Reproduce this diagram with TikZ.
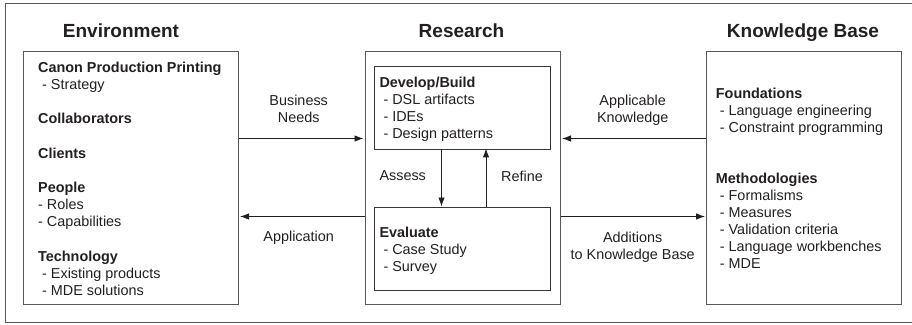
\documentclass[tikz,border=0pt]{standalone}
\usepackage{fontspec}
\setmainfont{Liberation Sans}
\usetikzlibrary{arrows.meta}
\definecolor{ink}{HTML}{231F20}
\definecolor{boxgrey}{HTML}{58585A}
\newcommand{\sub}{\hspace*{4pt}}
\tikzset{
  x=1pt,y=-1pt,
  every node/.style={text=ink},
  box/.style={draw=boxgrey,line width=1pt,fill=none,inner sep=0pt,minimum width=#1},
  inner/.style={draw=ink!90,line width=0.9pt,inner sep=0pt,minimum width=176pt,anchor=north west},
  title/.style={font=\fontsize{19}{22}\selectfont\bfseries,anchor=base,inner sep=0pt},
  txt/.style={font=\fontsize{14.4}{17}\selectfont,anchor=base west,align=left,inner sep=0pt},
  lab/.style={font=\fontsize{14.4}{17}\selectfont,anchor=base,align=center,inner sep=0pt},
  arr/.style={draw=ink,line width=0.9pt,-{Latex[length=9pt,width=6.5pt]}},
}
\begin{document}
\begin{tikzpicture}
\useasboundingbox (0,0) rectangle (912,324);
\draw[boxgrey,line width=1pt] (912,3.5) -- (5,3.5) -- (5,322.5) -- (912,322.5);
% titles
\node[title] (tenv) at (121,37.5) {Environment};
\node[title] (tres) at (461.5,37.5) {Research};
\node[title] (tkb) at (803,37.5) {Knowledge Base};
% boxes
\node[box=215pt,minimum height=253pt,anchor=north west] (env) at (23,51) {};
\node[box=195pt,minimum height=253pt,anchor=north west] (res) at (364.5,51) {};
\node[box=195pt,minimum height=253pt,anchor=north west] (kb) at (706,51) {};
\node[inner,minimum height=83pt] (dev) at (374,65.5) {};
\node[inner,minimum height=83pt] (eval) at (374,206.5) {};
% environment text
\node[txt] (e1) at (38,89) {\textbf{Canon Production Printing}\\\sub- Strategy};
\node[txt] (e2) at (38,123.3) {\textbf{Collaborators}};
\node[txt] (e3) at (38,158) {\textbf{Clients}};
\node[txt] (e4) at (38,226) {\textbf{People}\\- Roles\\- Capabilities};
\node[txt] (e5) at (38,295) {\textbf{Technology}\\\sub- Existing products\\\sub- MDE solutions};
% research text
\node[txt] (d1) at (379.3,138.3) {\textbf{Develop/Build}\\\sub- DSL artifacts\\\sub- IDEs\\\sub- Design patterns};
\node[txt] (v1) at (379.3,271) {\textbf{Evaluate}\\\sub- Case Study\\\sub- Survey};
\node[txt] (as) at (379.3,180) {Assess};
\node[txt] (re) at (501,181.5) {Refine};
% knowledge base text
\node[txt] (k1) at (715.7,132) {\textbf{Foundations}\\\sub- Language engineering\\\sub- Constraint programming};
\node[txt] (k2) at (715.7,268) {\textbf{Methodologies}\\\sub- Formalisms\\\sub- Measures\\\sub- Validation criteria\\\sub- Language workbenches\\\sub- MDE};
% connector labels
\node[lab] (l1) at (298.7,122.3) {Business\\Needs};
\node[lab] (l2) at (298.7,241) {Application};
\node[lab] (l3) at (632.7,122.3) {Applicable\\Knowledge};
\node[lab] (l4) at (632.7,259) {Additions\\to Knowledge Base};
% connectors
\coordinate (upper) at (300,138.5);
\coordinate (lower) at (300,216.5);
\coordinate (down) at (441.5,180);
\coordinate (up) at (486,180);
\draw[arr] (env.east |- upper) -- ([xshift=-1pt]res.west |- upper);
\draw[arr] (res.west |- lower) -- ([xshift=1pt]env.east |- lower);
\draw[arr] (kb.west |- upper) -- ([xshift=1.5pt]res.east |- upper);
\draw[arr] (res.east |- lower) -- ([xshift=-1pt]kb.west |- lower);
\draw[arr] (dev.south -| down) -- (eval.north -| down);
\draw[arr] (eval.north -| up) -- ([yshift=1pt]dev.south -| up);
\end{tikzpicture}
\end{document}
